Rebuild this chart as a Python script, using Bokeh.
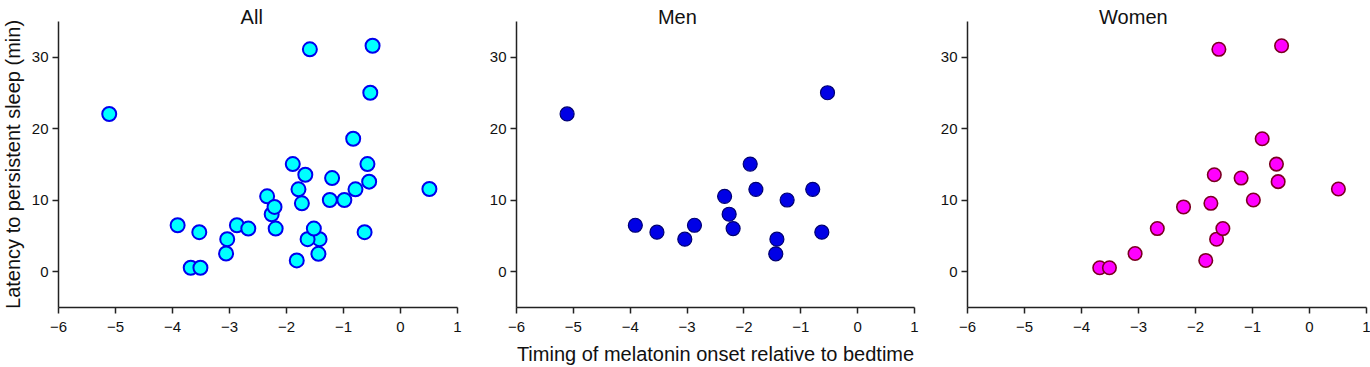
import math
from bokeh.plotting import figure
from bokeh.layouts import row
from bokeh.models import FixedTicker
from bokeh.core.properties import value
from bokeh.embed import file_html
from bokeh.resources import INLINE

# ---- data ----
men_x = [-5.11, -3.91, -3.53, -3.04, -2.87, -2.34, -2.26, -2.19, -1.89, -1.79,
         -1.42, -1.44, -1.24, -0.79, -0.63, -0.53]
men_y = [22.06, 6.5, 5.53, 4.55, 6.5, 10.54, 8.04, 6.04, 15.05, 11.52,
         4.55, 2.51, 10.03, 11.52, 5.53, 25.03]
women_x = [-3.68, -3.51, -3.06, -2.67, -2.21, -1.82, -1.73, -1.67, -1.63, -1.52,
           -1.59, -1.20, -0.985, -0.83, -0.58, -0.55, -0.49, 0.507]
women_y = [0.56, 0.56, 2.55, 6.04, 9.06, 1.58, 9.57, 13.56, 4.55, 6.04,
           31.1, 13.1, 10.03, 18.6, 15.05, 12.6, 31.6, 11.57]
all_x = men_x + women_x
all_y = men_y + women_y

panel_titles = ["All", "Men", "Women"]
x_ticks = [-6, -5, -4, -3, -2, -1, 0, 1]
x_tick_labels = ["\u22126", "\u22125", "\u22124", "\u22123", "\u22122", "\u22121", "0", "1"]
y_ticks = [0, 10, 20, 30]
y_tick_labels = ["0", "10", "20", "30"]
y_label = "Latency to persistent sleep (min)"
x_label = "Timing of melatonin onset relative to bedtime"

# layout-only settings
FONT = "Liberation Sans"
H = 367
TITLE_X = [-2.61, -3.17, -3.09]
Y_LO, Y_HI = -5, 35
Y_TOP = 35 + 21 / (287 / 40)   # extra room above the axis for the panel title
TITLE_Y = 35 + 4.3 / (287 / 40)


def make_panel(title, tx, xs, ys, fill, line, lw, size, width, left, right, xlab=None):
    p = figure(width=width, height=H, x_range=(-6, 1), y_range=(Y_LO, Y_TOP),
               output_backend="svg", toolbar_location=None,
               min_border_left=left, min_border_right=right,
               min_border_top=0, min_border_bottom=59)
    p.outline_line_color = None
    p.xgrid.grid_line_color = None
    p.ygrid.grid_line_color = None
    p.background_fill_color = "white"
    p.border_fill_color = "white"
    for ax, ticks, labels in ((p.xaxis[0], x_ticks, x_tick_labels),
                              (p.yaxis[0], y_ticks, y_tick_labels)):
        ax.ticker = FixedTicker(ticks=ticks)
        ax.major_label_overrides = {t: l for t, l in zip(ticks, labels)}
        ax.minor_tick_line_color = None
        ax.major_tick_in = 0
        ax.major_tick_out = 6
        ax.axis_line_width = 1.5
        ax.major_tick_line_width = 1.5
        ax.axis_line_color = "#222222"
        ax.major_tick_line_color = "#222222"
        ax.major_label_text_font = FONT
        ax.major_label_text_font_size = "15px"
        ax.major_label_text_color = "#111111"
        ax.axis_label_text_font = FONT
        ax.axis_label_text_font_size = "20px"
        ax.axis_label_text_font_style = "normal"
        ax.axis_label_text_color = "#111111"
    p.yaxis[0].bounds = (Y_LO, Y_HI)
    p.yaxis[0].major_label_standoff = 4
    p.xaxis[0].major_label_standoff = 8
    if xlab:
        p.xaxis[0].axis_label = xlab
        p.xaxis[0].axis_label_standoff = 8
    p.scatter(xs, ys, size=size, fill_color=fill, line_color=line, line_width=lw)
    p.text(x=[tx], y=[TITLE_Y], text=[title], text_align="center",
           text_baseline="alphabetic", text_font=value(FONT),
           text_font_size="20px", text_color="#111111")
    return p


# narrow strip holding the shared y-axis title, centred on the drawn y axis
# (its frame is aligned with the panels' frames by the row layout)
p0 = figure(width=25, height=H, x_range=(0, 25), y_range=(Y_LO, Y_TOP),
            output_backend="svg", toolbar_location=None, min_border=0)
p0.axis.visible = False
p0.grid.visible = False
p0.outline_line_color = None
p0.text(x=[12.5], y=[(Y_LO + Y_HI) / 2], text=[y_label], angle=math.pi / 2,
        text_align="center", text_baseline="middle", text_font=value(FONT),
        text_font_size="20px", text_color="#111111")

p1 = make_panel(panel_titles[0], TITLE_X[0], all_x, all_y, "#00ffff", "#0000ee", 2.0, 14,
                461, 33, 29)
p2 = make_panel(panel_titles[1], TITLE_X[1], men_x, men_y, "#0000e6", "#000070", 1.2, 14,
                451, 30, 23, xlab=x_label)
p3 = make_panel(panel_titles[2], TITLE_X[2], women_x, women_y, "#ff00ff", "#7a0020", 1.6, 13.5,
                433, 30, 4)

layout = row(p0, p1, p2, p3)
open("out.html", "w").write(file_html(layout, INLINE))
